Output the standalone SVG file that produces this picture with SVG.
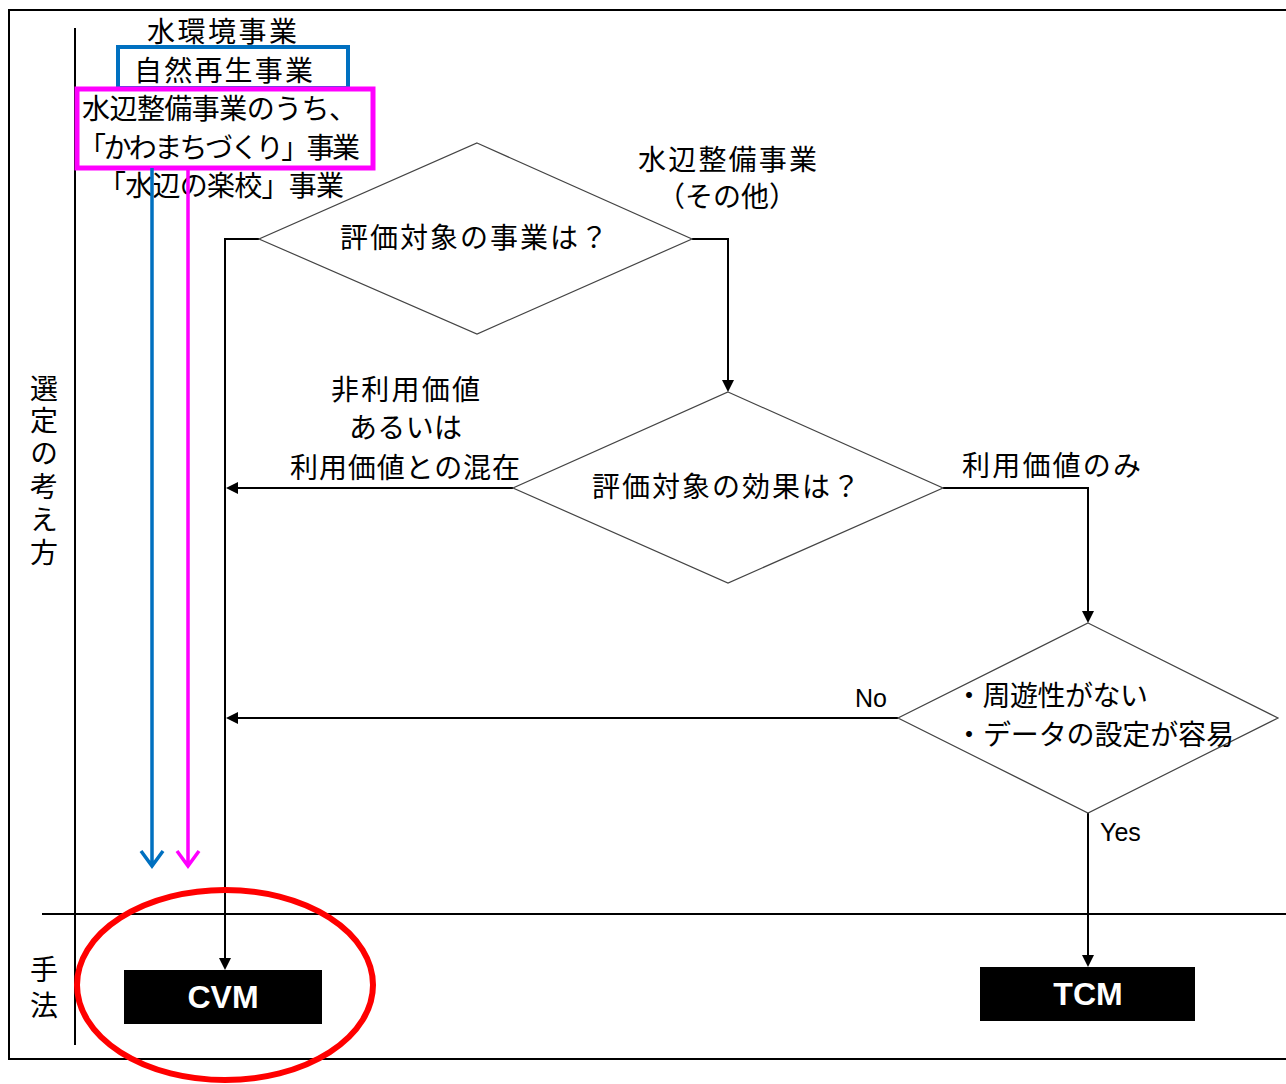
<svg xmlns="http://www.w3.org/2000/svg" width="1286" height="1084" viewBox="0 0 1286 1084">
<style>
text{font-family:"Noto Sans CJK JP","Liberation Sans",sans-serif;fill:#000;font-size:28px}
.c{text-anchor:middle}
.v{writing-mode:vertical-rl;text-anchor:start}
.dia{fill:#fff;stroke:#444;stroke-width:1.2}
.con{fill:none;stroke:#000;stroke-width:2}
.frame{fill:none;stroke:#000;stroke-width:2}
.box{fill:#000}
.bt{fill:#fff;font-family:"Liberation Sans",Arial,sans-serif;font-weight:bold;font-size:32px;text-anchor:middle}
.lat{font-family:"Liberation Sans",Arial,sans-serif;font-size:25px}
</style>
<defs>
<marker id="ah" markerWidth="12" markerHeight="12" refX="10" refY="6" orient="auto" markerUnits="userSpaceOnUse">
<path d="M0,0 L12,6 L0,12 Z" fill="#000"/>
</marker>
</defs>
<rect width="1286" height="1084" fill="#fff"/>
<g id="frame">
<path class="frame" d="M1290,10 H9 V1059 H1290"/>
<line class="frame" x1="75" y1="28" x2="75" y2="1045"/>
<line class="frame" x1="42" y1="914" x2="1290" y2="914"/>
<text class="v" x="44" y="374" textLength="192" lengthAdjust="spacing">選定の考え方</text>
<text class="v" x="44" y="955" textLength="64" lengthAdjust="spacing">手法</text>
</g>
<g id="categories">
<text x="147" y="42" textLength="150">水環境事業</text>
<rect x="118" y="47" width="230" height="41" fill="none" stroke="#0070C0" stroke-width="4"/>
<text x="134" y="81" textLength="179">自然再生事業</text>
<rect x="77" y="89" width="296" height="79" fill="none" stroke="#FF00FF" stroke-width="5"/>
<text x="82" y="119" textLength="275">水辺整備事業のうち、</text>
<text x="78" y="158" textLength="282">「かわまちづくり」事業</text>
<text x="98" y="196" textLength="246">「水辺の楽校」事業</text>
</g>
<g id="connectors">
<path d="M152,168 V866 M141,851 L152,866 L163,851" fill="none" stroke="#0070C0" stroke-width="3.5"/>
<path d="M188,168 V866 M177,851 L188,866 L199,851" fill="none" stroke="#FF00FF" stroke-width="3.5"/>
<path class="con" d="M259,239 H225 V968" marker-end="url(#ah)"/>
<path class="con" d="M692,239 H728 V390" marker-end="url(#ah)"/>
<path class="con" d="M513,488 H228" marker-end="url(#ah)"/>
<path class="con" d="M943,488 H1088 V621" marker-end="url(#ah)"/>
<path class="con" d="M898,718 H228" marker-end="url(#ah)"/>
<path class="con" d="M1088,813 V965" marker-end="url(#ah)"/>
<text x="331" y="400" textLength="149">非利用価値</text>
<text x="349" y="438" textLength="113">あるいは</text>
<text x="290" y="478" textLength="230">利用価値との混在</text>
<text x="638" y="170" textLength="179">水辺整備事業</text>
<text x="727" y="207" class="c">（その他）</text>
<text x="962" y="476" textLength="179">利用価値のみ</text>
<text x="887" y="707" text-anchor="end" class="lat">No</text>
<text x="1100" y="841" class="lat">Yes</text>
</g>
<g id="q1">
<polygon class="dia" points="477,143 692,239 477,334 259,239"/>
<text x="340" y="248" textLength="268">評価対象の事業は？</text>
</g>
<g id="q2">
<polygon class="dia" points="728,392 943,488 728,583 513,488"/>
<text x="592" y="497" textLength="268">評価対象の効果は？</text>
</g>
<g id="q3">
<polygon class="dia" points="1088,623 1278,718 1088,813 898,718"/>
<text x="955" y="706" textLength="193">・周遊性がない</text>
<text x="955" y="745" textLength="279">・データの設定が容易</text>
</g>
<g id="cvm">
<rect class="box" x="124" y="970" width="198" height="54"/>
<text class="bt" x="223" y="1008">CVM</text>
</g>
<g id="tcm">
<rect class="box" x="980" y="967" width="215" height="54"/>
<text class="bt" x="1088" y="1005">TCM</text>
</g>
<ellipse id="highlight" cx="225" cy="985" rx="148" ry="95" fill="none" stroke="#FF0000" stroke-width="6"/>
</svg>
